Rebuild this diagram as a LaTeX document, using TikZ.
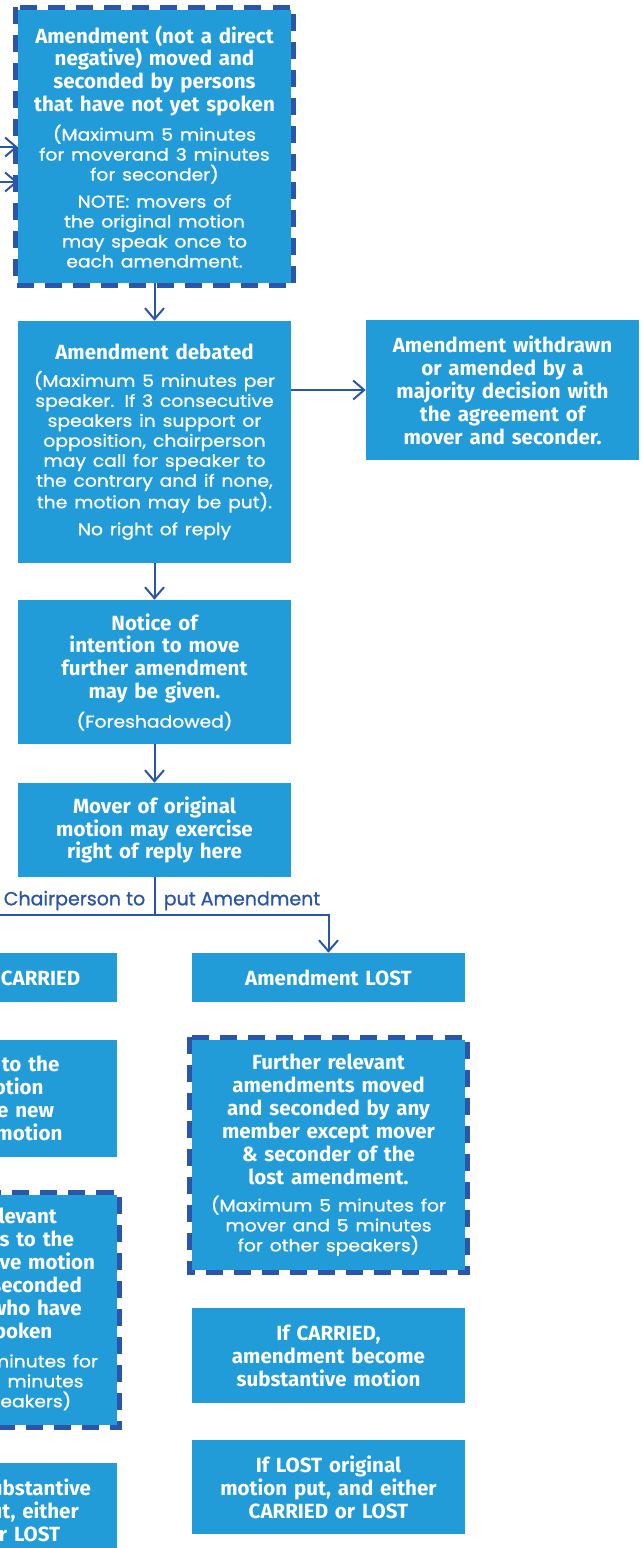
\documentclass[tikz,border=0pt]{standalone}
\usepackage{fontspec}
\setmainfont{Poppins}
\newfontfamily\widefont{Poppins}[FakeStretch=1.11, FakeBold=1]
\newfontfamily\labelfam{Poppins}[FakeBold=1]
\newfontfamily\headfam{Fira Sans}
\usetikzlibrary{arrows.meta,positioning,calc}

\definecolor{boxblue}{HTML}{219CD8}
\definecolor{lineblue}{HTML}{2B56A8}
\newcommand{\headfont}{\headfam\fontsize{14.6}{16.3}\selectfont\bfseries}
\newcommand{\notefont}{\widefont\mdseries\fontsize{12}{14.2}\selectfont}
\newcommand{\boxnote}[1]{\par\vspace{5pt}{\notefont #1\par}}

\begin{document}
\begin{tikzpicture}[
    x=0.025cm, y=-0.025cm,
    box/.style={rectangle, fill=boxblue, text=white, minimum width=6.825cm, text width=6.825cm, inner sep=0pt, align=center, font=\headfont},
    boxtext/.style={text=white, text width=6.825cm, inner sep=0pt, align=center, font=\headfont},
    dashedge/.style={draw=lineblue, line width=0.125cm, dash pattern=on 0.425cm off 0.275cm},
    arrow/.style={-{Straight Barb[length=0.275cm, width=0.475cm]}, draw=lineblue, line width=0.05cm},
    linelabel/.style={text=lineblue, font=\labelfam\fontsize{13.5}{15}\selectfont, inner sep=0pt}
]
\useasboundingbox (0,0) rectangle (641,1548);
\clip (0,0) rectangle (641,1548);

% Amendment moved
\node[box, minimum height=6.825cm] (amend) at (154.5,146.5) {Amendment (not a direct\\negative) moved and\\seconded by persons\\that have not yet spoken\boxnote{(Maximum 5 minutes\\for moverand 3 minutes\\for seconder)}\boxnote{NOTE: movers of\\the original motion\\may speak once to\\each amendment.}};
\draw[dashedge] ($(amend.north west)+(-2.5,-2.5)$) rectangle ($(amend.south east)+(2.5,2.5)$);
\coordinate (fromA) at (-40,147);
\coordinate (fromB) at (-40,182);
\draw[arrow] (fromA) -- (fromA -| amend.west);
\draw[arrow] (fromB) -- (fromB -| amend.west);

% Debate
\node[box, minimum height=6.05cm] (debated) at (154.5,442) {Amendment debated\boxnote{(Maximum 5 minutes per\\speaker. If 3 consecutive\\speakers in support or\\opposition, chairperson\\may call for speaker to\\the contrary and if none,\\the motion may be put).}\boxnote{No right of reply}};
\node[box, minimum height=3.5cm] (withdrawn) at (502.5,390) {Amendment withdrawn\\or amended by a\\majority decision with\\the agreement of\\mover and seconder.};
\node[box, minimum height=3.6cm] (notice) at (154.5,672) {Notice of\\intention to move\\further amendment\\may be given.\boxnote{(Foreshadowed)}};
\node[box, minimum height=2.35cm] (mover) at (154.5,830) {Mover of original\\motion may exercise\\right of reply here};

\draw[arrow] (amend.south) -- (debated.north);
\draw[arrow] (withdrawn.west -| debated.east) -- (withdrawn.west);
\draw[arrow] (debated.south) -- (notice.north);
\draw[arrow] (notice.south) -- (mover.north);

% Chairperson puts the amendment
\coordinate (split) at ($(mover.south)+(0,38)$);
\node[linelabel, anchor=base east] (chairto) at ($(split)+(-9,-10)$) {Chairperson to};
\node[linelabel, anchor=base west] (putamend) at ($(split)+(9,-10)$) {put Amendment};

\node[box, minimum height=1.225cm] (carried) at (-19.5,977.5) {Amendment CARRIED};
\node[box, minimum height=1.225cm] (lost) at (328.5,977.5) {Amendment LOST};

\draw[draw=lineblue, line width=0.05cm] (mover.south) -- (split);
\draw[arrow] (split) -| (carried.north);
\draw[arrow] (split) -| (lost.north);

% Carried branch
\node[box, minimum height=2.925cm] (newmotion) at (-19.5,1098.5) {};
\node[boxtext] (newmotiontext) at ($(newmotion)+(-10,0)$) {Amendment to the\\original motion\\becomes the new\\substantive motion};
\node[box, minimum height=5.75cm] (morecarried) at (-19.5,1310) {Further relevant\\amendments to the\\new substantive motion\\moved and seconded\\by persons who have\\not yet spoken\boxnote{(Maximum 5 minutes for\\mover and 5 minutes\\for other speakers)}};
\draw[dashedge] ($(morecarried.north west)+(-2.5,-2.5)$) rectangle ($(morecarried.south east)+(2.5,2.5)$);
\node[box, minimum height=2.35cm] (finalcarried) at (-19.5,1510) {If CARRIED, substantive\\motion is put, either\\CARRIED or LOST};

% Lost branch
\node[box, minimum height=5.75cm] (morelost) at (328.5,1155) {Further relevant\\amendments moved\\and seconded by any\\member except mover\\\& seconder of the\\lost amendment.\boxnote{(Maximum 5 minutes for\\mover and 5 minutes\\for other speakers)}};
\draw[dashedge] ($(morelost.north west)+(-2.5,-2.5)$) rectangle ($(morelost.south east)+(2.5,2.5)$);
\node[box, minimum height=2.375cm] (ifcarried) at (328.5,1355.5) {If CARRIED,\\amendment become\\substantive motion};
\node[box, minimum height=2.35cm] (iflost) at (328.5,1487) {If LOST original\\motion put, and either\\CARRIED or LOST};

\end{tikzpicture}
\end{document}
